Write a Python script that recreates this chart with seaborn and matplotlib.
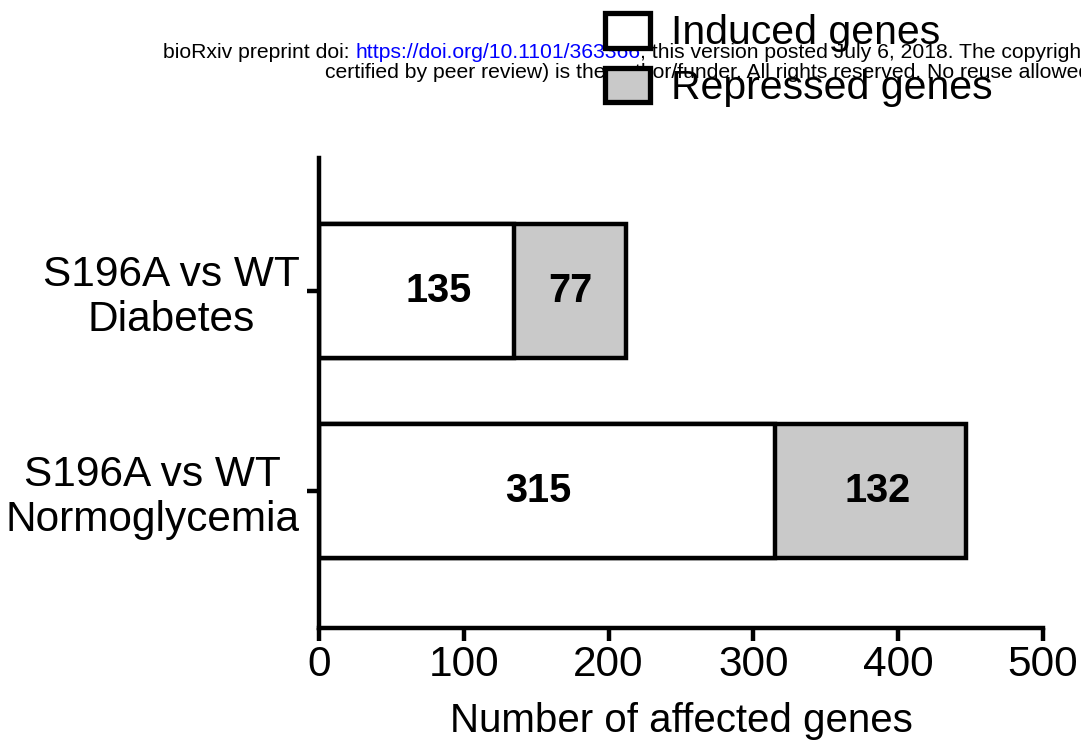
import matplotlib
matplotlib.use('Agg')
import matplotlib.pyplot as plt
import matplotlib.patches as mpatches
import pandas as pd
import seaborn as sns

comparisons = ['S196A vs WT\nDiabetes', 'S196A vs WT\nNormoglycemia']
induced = [135, 315]
repressed = [77, 132]
x_ticks = [0, 100, 200, 300, 400, 500]

df = pd.DataFrame({'comparison': comparisons,
                   'induced': induced,
                   'repressed': repressed})
df['total'] = df['induced'] + df['repressed']

sns.set_style('ticks')
plt.rcParams['font.family'] = ['Liberation Sans', 'DejaVu Sans']
plt.rcParams.update({'text.color': 'black', 'axes.labelcolor': 'black',
                     'xtick.color': 'black', 'ytick.color': 'black'})

fig = plt.figure(figsize=(10.81, 7.45), dpi=100)
ax = fig.add_axes([319 / 1081, 1 - 628 / 745, 724 / 1081, 470 / 745])

gray = '#c9c9c9'
lw = 3.2
# total bar (repressed part shows on the right), then induced on top
sns.barplot(data=df, y='comparison', x='total', color=gray, orient='h',
            width=0.67, edgecolor='black', linewidth=lw, saturation=1, ax=ax)
sns.barplot(data=df, y='comparison', x='induced', color='white', orient='h',
            width=0.67, edgecolor='black', linewidth=lw, saturation=1, ax=ax)

# small nudges so the numbers sit where they do in the original
ind_nudge = [15, -6]
rep_nudge = [0, 5]
for i, row in df.iterrows():
    ax.text(row['induced'] / 2 + ind_nudge[i], i, str(row['induced']),
            ha='center', va='center', fontsize=28.5, fontweight='bold')
    ax.text(row['induced'] + row['repressed'] / 2 + rep_nudge[i], i, str(row['repressed']),
            ha='center', va='center', fontsize=28.5, fontweight='bold')

ax.set_xlim(0, 500)
ax.set_ylim(1.685, -0.665)
ax.set_xticks(x_ticks)
ax.set_xlabel('Number of affected genes', fontsize=29, labelpad=12)
ax.set_ylabel('')
ax.tick_params(axis='both', labelsize=30.5, width=lw, length=9)
ax.tick_params(axis='y', pad=5)
for lbl in ax.get_yticklabels():
    lbl.set_multialignment('center')
    lbl.set_linespacing(1.15)
sns.despine(ax=ax)
for s in ['left', 'bottom']:
    ax.spines[s].set_linewidth(lw)
    ax.spines[s].set_color('black')

handles = [mpatches.Patch(facecolor='white', edgecolor='black', linewidth=3.8, label='Induced genes'),
           mpatches.Patch(facecolor=gray, edgecolor='black', linewidth=3.8, label='Repressed genes')]
fig.legend(handles=handles, loc='upper left', bbox_to_anchor=(605 / 1081, 1 - 13 / 745),
           frameon=False, fontsize=29.5, handlelength=1.1, handleheight=0.92,
           handletextpad=0.5, labelspacing=0.38, borderpad=0, borderaxespad=0)

# preprint header, drawn in pieces so the link is blue
hsize = 15.2
fig.canvas.draw()
r = fig.canvas.get_renderer()
parts = [('bioRxiv preprint doi: ', 'black'),
         ('https://doi.org/10.1101/363366', '#0000ff'),
         (', this version posted July 6, 2018. The copyright holder for this preprint (which was not', 'black')]
x0 = 163
for txt, col in parts:
    t = fig.text(x0 / 1081, 1 - 58 / 745, txt, fontsize=hsize, color=col,
                 va='baseline', ha='left')
    x0 += t.get_window_extent(renderer=r).width
fig.text(325 / 1081, 1 - 78 / 745,
         'certified by peer review) is the author/funder. All rights reserved. No reuse allowed without permission.',
         fontsize=hsize, color='black', va='baseline', ha='left')

fig.savefig('out.png', dpi=100)
